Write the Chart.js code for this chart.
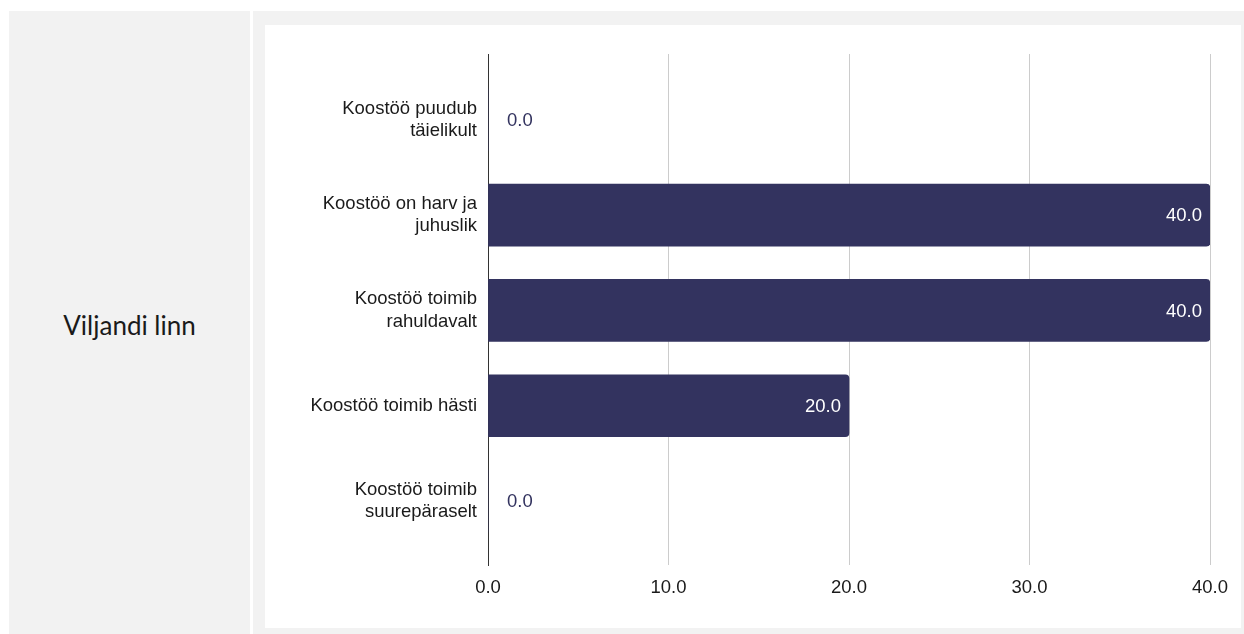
<!DOCTYPE html>
<html>
<head>
<meta charset="utf-8">
<script src="https://cdn.jsdelivr.net/npm/chart.js@4"></script>
<style>
  html, body { margin: 0; padding: 0; background: #fff; }
  body { width: 1244px; height: 634px; position: relative; overflow: hidden; }
  #left {
    position: absolute; left: 9px; top: 11px; width: 241px; height: 623px;
    background: #f2f2f2; display: flex; align-items: center; justify-content: center;
    font-family: Lato, sans-serif; font-size: 26px; color: #1a1a1a;
  }
  #right {
    position: absolute; left: 253px; top: 11px; width: 991px; height: 623px;
    background: #f2f2f2;
  }
  #box {
    position: absolute; left: 12px; top: 14px; width: 976px; height: 603px;
    background: #fff;
  }
</style>
</head>
<body>
<div id="left"><span style="margin-top:4px">Viljandi linn</span></div>
<div id="right"><div id="box"><canvas id="chart" width="976" height="603"></canvas></div></div>
<script>
// categories and values
var categories = [
    ['Koostöö puudub', 'täielikult'],
    ['Koostöö on harv ja', 'juhuslik'],
    ['Koostöö toimib', 'rahuldavalt'],
    ['Koostöö toimib hästi'],
    ['Koostöö toimib', 'suurepäraselt']
];
var values = [0, 40, 40, 20, 0];
var xTicks = [0, 10, 20, 30, 40];

var barColor = '#33335f';
var fontFamily = '"Liberation Sans", Arial, sans-serif';

// y positions are just the index of each category
var points = values.map(function (v, i) { return {x: v, y: i}; });

// draws the value next to / inside each bar
var valueLabels = {
    id: 'valueLabels',
    afterDatasetsDraw: function (chart) {
        var c = chart.ctx;
        var meta = chart.getDatasetMeta(0);
        var xScale = chart.scales.x;
        c.save();
        c.font = '18.5px ' + fontFamily;
        c.textBaseline = 'middle';
        meta.data.forEach(function (bar, i) {
            var v = values[i];
            var txt = v.toFixed(1);
            if (v > 0) {
                c.fillStyle = '#ffffff';
                c.textAlign = 'right';
                c.fillText(txt, bar.x - 8, bar.y + 1);
            } else {
                c.fillStyle = barColor;
                c.textAlign = 'left';
                c.fillText(txt, xScale.getPixelForValue(0) + 19, bar.y + 1);
            }
        });
        c.restore();
    }
};

new Chart(document.getElementById('chart'), {
    type: 'bar',
    data: {
        datasets: [{
            data: points,
            backgroundColor: barColor,
            borderRadius: 4,
            borderSkipped: 'start',
            barThickness: 62
        }]
    },
    options: {
        indexAxis: 'y',
        responsive: false,
        animation: false,
        layout: { padding: { top: 29, right: 31, bottom: 0, left: 0 } },
        plugins: { legend: { display: false }, tooltip: { enabled: false } },
        scales: {
            x: {
                type: 'linear',
                min: 0,
                max: 40,
                afterBuildTicks: function (scale) {
                    scale.ticks = xTicks.map(function (v) { return {value: v}; });
                },
                afterFit: function (scale) { scale.height = 63; },
                grid: {
                    color: function (ctx) { return ctx.tick && ctx.tick.value === 0 ? '#333333' : '#cccccc'; },
                    drawTicks: false
                },
                border: { display: false },
                ticks: {
                    padding: 12,
                    color: '#1a1a1a',
                    font: { family: fontFamily, size: 18.5 },
                    callback: function (v) { return Number(v).toFixed(1); }
                }
            },
            y: {
                type: 'linear',
                reverse: true,
                offset: false,
                min: -0.69,
                max: 4.67,
                afterBuildTicks: function (scale) {
                    scale.ticks = categories.map(function (c, i) { return {value: i}; });
                },
                afterFit: function (scale) {
                    scale.width = 223;
                    // labels sit well inside the axis, no overhang padding needed
                    scale.paddingTop = 0;
                    scale.paddingBottom = 0;
                },
                grid: { display: false, offset: false, drawTicks: false },
                border: { display: true, color: '#333333', width: 1 },
                ticks: {
                    padding: 11,
                    color: '#1a1a1a',
                    font: { family: fontFamily, size: 18.5 },
                    callback: function (v) { return categories[v]; }
                }
            }
        }
    },
    plugins: [valueLabels]
});
</script>
</body>
</html>
